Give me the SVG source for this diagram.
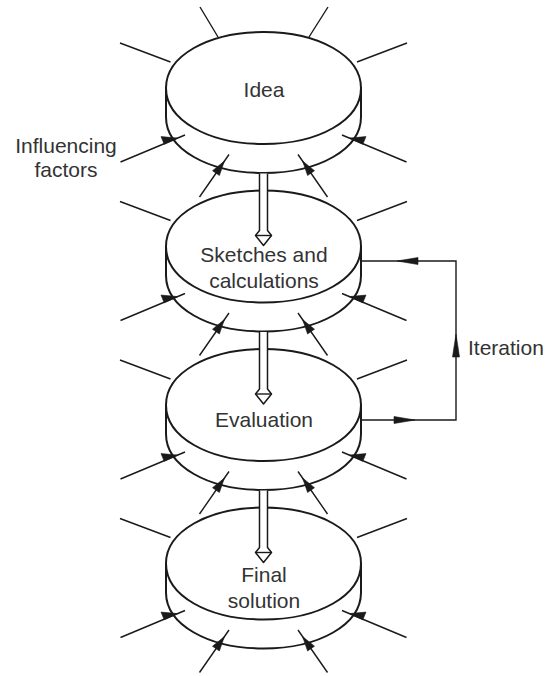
<svg xmlns="http://www.w3.org/2000/svg" xmlns:xlink="http://www.w3.org/1999/xlink" width="556" height="676" viewBox="0 0 556 676">
<style>
.face{fill:#fff;stroke:#1a1a1a;stroke-width:2}
.ln{fill:none;stroke:#1a1a1a;stroke-width:1.4}
.ah{fill:#1a1a1a;stroke:#1a1a1a;stroke-width:0.6;stroke-linejoin:round}
.sh{fill:#fff;stroke:#1a1a1a;stroke-width:1.5;stroke-linejoin:round}
.lbl{font-family:"Liberation Sans",Arial,sans-serif;font-size:21px;fill:#333;text-anchor:middle}
</style>
<defs>
<g id="disk">
<path class="face" d="M-97.5,0 V29 C-97.5,61 -55.6,85 0,85 C55.6,85 97.5,61 97.5,29 V0 Z"/>
<path class="face" d="M-97.5,0 C-97.5,-32 -55.6,-56 0,-56 C55.6,-56 97.5,-32 97.5,0 C97.5,32 55.6,56 0,56 C-55.6,56 -97.5,32 -97.5,0 Z"/>
</g>
<g id="inf">
<path class="ln" d="M-143.5,-45 L-93,-26 M143.5,-45 L93.5,-26 M-143,74 L-78.5,47 M143,74 L78.5,47 M-64,109 L-34.5,66.5 M64,109 L34.5,66.5"/>
<polygon class="ah" points="-85.9,50.1 -99.3,56.3 -102.5,48.6"/>
<polygon class="ah" points="85.9,50.1 99.3,56.3 102.5,48.6"/>
<polygon class="ah" points="-39.1,73.1 -44.1,87.5 -51.0,82.7"/>
<polygon class="ah" points="39.1,73.1 44.1,87.5 51.0,82.7"/>
</g>
<g id="shaft">
<path class="sh" d="M-4,-73 V-16 L-8,-11 L0,-1 L8,-11 L4,-16 V-73"/>
<path class="ln" d="M-8,-11 H8" stroke-width="1.3"/>
</g>
</defs>

<g id="node-idea">
<use xlink:href="#disk" transform="translate(263.5,88)"/>
<text class="lbl" x="264" y="97">Idea</text>
</g>
<g id="node-sketches">
<use xlink:href="#disk" transform="translate(263.5,246.5)"/>
<text class="lbl" x="264" y="262">Sketches and</text>
<text class="lbl" x="264" y="288">calculations</text>
</g>
<g id="node-evaluation">
<use xlink:href="#disk" transform="translate(263.5,405)"/>
<text class="lbl" x="264" y="427">Evaluation</text>
</g>
<g id="node-final">
<use xlink:href="#disk" transform="translate(263.5,563.5)"/>
<text class="lbl" x="264" y="582">Final</text>
<text class="lbl" x="264" y="608">solution</text>
</g>

<g id="influences">
<use xlink:href="#inf" transform="translate(263.5,88)"/>
<use xlink:href="#inf" transform="translate(263.5,246.5)"/>
<use xlink:href="#inf" transform="translate(263.5,405)"/>
<use xlink:href="#inf" transform="translate(263.5,563.5)"/>
<path class="ln" d="M200,7 L218,37 M328,7 L309,37"/>
<text class="lbl" x="66" y="153">Influencing</text>
<text class="lbl" x="66" y="177">factors</text>
</g>

<g id="connectors">
<use xlink:href="#shaft" transform="translate(263.5,246.5)"/>
<use xlink:href="#shaft" transform="translate(263.5,405)"/>
<use xlink:href="#shaft" transform="translate(263.5,563.5)"/>
<path class="ln" d="M361,261 H456 V420 H361" stroke-width="1.5"/>
<polygon class="ah" points="397,261 418,257.5 418,264.5"/>
<polygon class="ah" points="456,334 452.5,357 459.5,357"/>
<polygon class="ah" points="415,420 394,416.5 394,423.5"/>
<text class="lbl" x="468" y="355" style="text-anchor:start">Iteration</text>
</g>
</svg>
